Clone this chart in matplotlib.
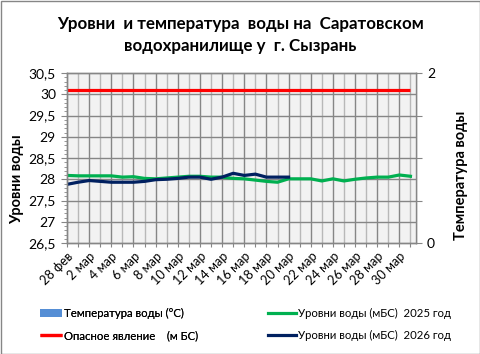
import numpy as np
import matplotlib
matplotlib.use("Agg")
import matplotlib.pyplot as plt
from matplotlib.patches import Rectangle
from matplotlib.ticker import MultipleLocator, FixedLocator

# ---- data ----
dates = ["28 фев"] + [f"{d} мар" for d in range(1, 32)]
level_2025 = [28.09, 28.08, 28.08, 28.08, 28.08, 28.05, 28.06, 28.02, 28.01, 28.03,
              28.05, 28.07, 28.07, 28.05, 28.05, 28.02, 28.01, 27.98, 27.95, 27.93,
              28.01, 28.01, 28.01, 27.96, 28.01, 27.96, 28.00, 28.03, 28.05, 28.05,
              28.10, 28.07]
level_2026 = [27.88, 27.93, 27.97, 27.95, 27.93, 27.93, 27.93, 27.95, 27.99, 28.00,
              28.02, 28.05, 28.05, 28.00, 28.05, 28.14, 28.09, 28.12, 28.05, 28.05,
              28.05] + [np.nan] * 11
danger = [30.1] * 32
temperature = [np.nan] * 32

title = "Уровни  и температура  воды на  Саратовском\nводохранилище у  г. Сызрань"
left_label = "Уровни воды"
right_label = "Температура воды"
lbl_temp = "Температура воды (°С)"
lbl_danger = "Опасное явление    (м БС)"
lbl_2025 = "Уровни воды (мБС)  2025 год"
lbl_2026 = "Уровни воды (мБС)  2026 год"

FONT = ["Lato", "DejaVu Sans"]
plt.rcParams["font.family"] = FONT

W, H = 481, 354
fig = plt.figure(figsize=(W / 100, H / 100), dpi=100)
fig.patch.set_facecolor("white")
fig.add_artist(Rectangle((0.5 / W, 0.5 / H), 1 - 1.5 / W, 1 - 1.5 / H, transform=fig.transFigure,
                         fill=False, edgecolor="#868686", linewidth=1.0))

L, R, T, B = 67, 416, 73, 243
ax = fig.add_axes([L / W, 1 - B / H, (R - L) / W, (B - T) / H])
ax.set_facecolor("#f2f2f2")
x = np.arange(len(dates))

ax2 = ax.twinx()
bars = ax2.bar(x, temperature, color="#558ed5", width=0.6, label=lbl_temp)
ax2.set_ylim(0, 2)
ax2.yaxis.set_major_locator(FixedLocator([0, 0.5, 1, 1.5, 2]))
ax2.set_yticklabels(["0", "", "", "", "2"])
ax2.tick_params(axis="y", length=4, color="#868686", labelsize=10, pad=4)
ax2.set_ylabel(right_label, fontsize=10.5, fontweight="bold")
ax2.yaxis.set_label_coords((454 - L) / (R - L), (B - 175) / (B - T))

ax.set_zorder(ax2.get_zorder() + 1)
ax.patch.set_visible(True)
ax2.patch.set_visible(False)

ld, = ax.plot(x, danger, color="#ff0000", lw=2.3, label=lbl_danger, solid_capstyle="butt")
l25, = ax.plot(x, level_2025, color="#00b050", lw=2.3, label=lbl_2025)
l26, = ax.plot(x, level_2026, color="#002060", lw=2.3, label=lbl_2026)

ax.set_xlim(0, 31.5)
ax.set_ylim(26.5, 30.5)
ax.yaxis.set_major_locator(MultipleLocator(0.5))
ax.yaxis.set_minor_locator(MultipleLocator(0.1))
ax.yaxis.set_major_formatter(matplotlib.ticker.FuncFormatter(lambda v, p: (f"{v:g}").replace(".", ",")))
ax.tick_params(axis="y", which="major", length=4, color="#868686", labelsize=10, pad=4)
ax.tick_params(axis="y", which="minor", length=2.5, color="#868686")
ax.set_xticks(x)
ax.set_xticklabels([d if i % 2 == 0 else "" for i, d in enumerate(dates)],
                   rotation=45, ha="right", rotation_mode="anchor", fontsize=9.2)
ax.tick_params(axis="x", length=3, color="#868686", pad=2)
ax.set_ylabel(left_label, fontsize=10.5, fontweight="bold")
ax.yaxis.set_label_coords((24 - L) / (R - L), (B - 179) / (B - T))

for xi in x:
    ax.axvline(xi, color="#868686" if xi % 2 == 0 else "#b8b8b8", lw=1.0, zorder=0.5)
for yv in np.arange(26.5, 30.51, 0.5):
    ax.axhline(yv, color="#868686", lw=1.0, zorder=0.5)
for a in (ax, ax2):
    for s in a.spines.values():
        s.set_color("#868686")
        s.set_linewidth(1.0)

fig.text(0.5, 1 - 35 / H, title, ha="center", va="center", fontsize=12.2,
         fontweight="bold", linespacing=1.45)

LFS = 8.2
leg1 = fig.legend(handles=[bars, ld], labels=[lbl_temp, lbl_danger], loc="upper left",
                  bbox_to_anchor=(40 / W, 1 - 308 / H), frameon=False, fontsize=LFS,
                  handlelength=1.95, handletextpad=0.2, labelspacing=1.0, borderaxespad=0,
                  borderpad=0)
fig.add_artist(leg1)
leg2 = fig.legend(handles=[l25, l26], labels=[lbl_2025, lbl_2026], loc="upper left",
                  bbox_to_anchor=(268 / W, 1 - 308 / H), frameon=False, fontsize=LFS,
                  handlelength=2.45, handletextpad=0.2, labelspacing=1.0, borderaxespad=0,
                  borderpad=0)

fig.savefig("out.png", dpi=100)
